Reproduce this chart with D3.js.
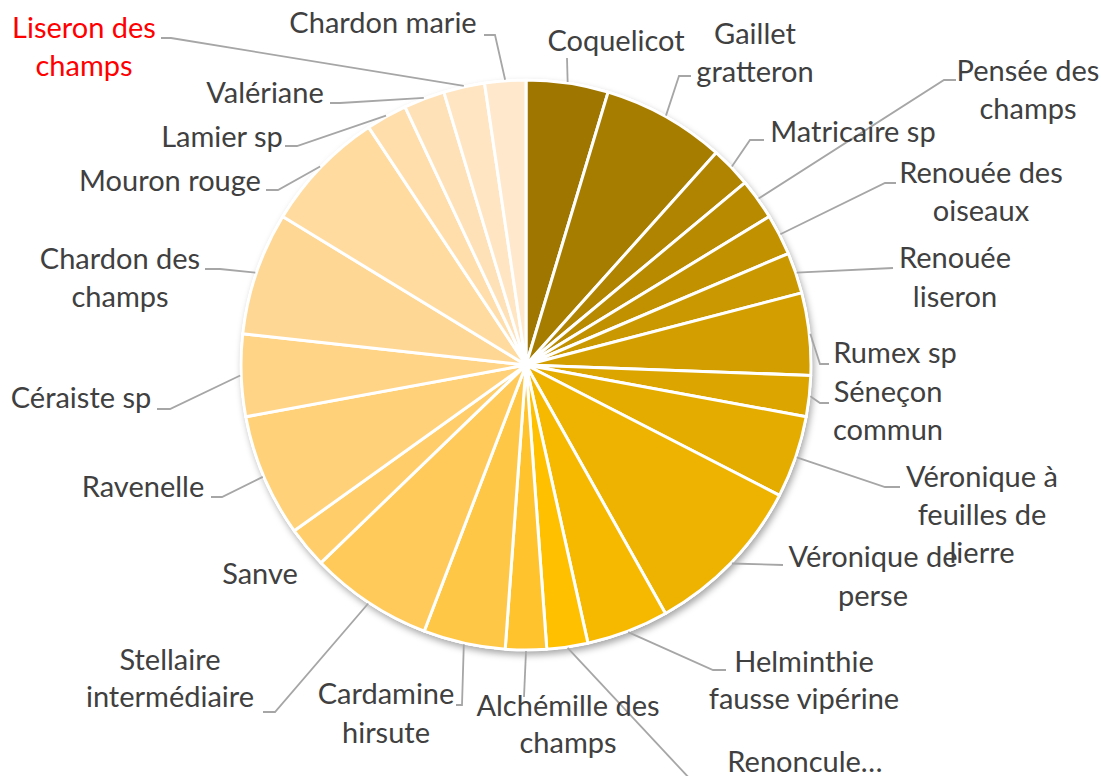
<!DOCTYPE html>
<html>
<head>
<meta charset="utf-8">
<script src="https://cdn.jsdelivr.net/npm/d3@7"></script>
<style>
  body { margin: 0; background: #fff; }
  .lbl { font-family: Lato, "Open Sans", sans-serif; font-size: 29px; fill: #404040; }
  .leader { fill: none; stroke: #a6a6a6; stroke-width: 1.8; }
</style>
</head>
<body>
<svg id="svg"></svg>
<script>
// species counted (clockwise from 12 o'clock)
const species = ["Coquelicot", "Gaillet gratteron", "Matricaire sp", "Pensée des champs",
  "Renouée des oiseaux", "Renouée liseron", "Rumex sp", "Séneçon commun",
  "Véronique à feuilles de lierre", "Véronique de perse", "Helminthie fausse vipérine",
  "Renoncule…", "Alchémille des champs", "Cardamine hirsute", "Stellaire intermédiaire",
  "Sanve", "Ravenelle", "Céraiste sp", "Chardon des champs", "Mouron rouge",
  "Lamier sp", "Valériane", "Liseron des champs", "Chardon marie"];
const counts = [2, 3, 1, 1, 1, 1, 2, 1, 2, 4, 2, 1, 1, 2, 3, 1, 3, 2, 3, 3, 1, 1, 1, 1];
const highlighted = ["Liseron des champs"];

// label placement, Excel style (line breaks, block centre x, baselines, leader elbow points)
const labelLayout = {
  "Coquelicot": { lines: ["Coquelicot"], x: 616, y: [51], leader: [[567, 58]] },
  "Gaillet gratteron": { lines: ["Gaillet", "gratteron"], x: 755, y: [44, 82], leader: [[679, 76], [691, 76]] },
  "Matricaire sp": { lines: ["Matricaire sp"], x: 853, y: [142], leader: [[750, 140], [764, 140]] },
  "Pensée des champs": { lines: ["Pensée des", "champs"], x: 1028, y: [81, 119], leader: [[944, 80], [956, 80]] },
  "Renouée des oiseaux": { lines: ["Renouée des", "oiseaux"], x: 981, y: [183, 221], leader: [[885, 183], [896, 183]] },
  "Renouée liseron": { lines: ["Renouée", "liseron"], x: 955, y: [268, 307], leader: [[893, 268]] },
  "Rumex sp": { lines: ["Rumex sp"], x: 895, y: [363], leader: [[820, 364], [829, 364]] },
  "Séneçon commun": { lines: ["Séneçon", "commun"], x: 888, y: [402, 440], leader: [[820, 403], [829, 403]] },
  "Véronique à feuilles de lierre": { lines: ["Véronique à", "feuilles de", "lierre"], x: 982, y: [487, 525, 563], leader: [[885, 487], [900, 487]] },
  "Véronique de perse": { lines: ["Véronique de", "perse"], x: 873, y: [567, 606], leader: [[783, 565]] },
  "Helminthie fausse vipérine": { lines: ["Helminthie", "fausse vipérine"], x: 804, y: [672, 709], leader: [[713, 670], [726, 670]] },
  "Renoncule…": { lines: ["Renoncule…"], x: 805, y: [772], leader: [[705, 795]] },
  "Alchémille des champs": { lines: ["Alchémille des", "champs"], x: 568, y: [716, 753], leader: [[524, 697]] },
  "Cardamine hirsute": { lines: ["Cardamine", "hirsute"], x: 386, y: [704, 743], leader: [[462, 705], [456, 705]] },
  "Stellaire intermédiaire": { lines: ["Stellaire", "intermédiaire"], x: 170, y: [670, 707], leader: [[275, 712], [263, 712]] },
  "Sanve": { lines: ["Sanve"], x: 260, y: [584], leader: [] },
  "Ravenelle": { lines: ["Ravenelle"], x: 143, y: [497], leader: [[222, 497], [211, 497]] },
  "Céraiste sp": { lines: ["Céraiste sp"], x: 81, y: [408], leader: [[170, 409], [157, 409]] },
  "Chardon des champs": { lines: ["Chardon des", "champs"], x: 120, y: [269, 307], leader: [[220, 269], [205, 269]] },
  "Mouron rouge": { lines: ["Mouron rouge"], x: 170, y: [191], leader: [[278, 190], [266, 190]] },
  "Lamier sp": { lines: ["Lamier sp"], x: 222, y: [147], leader: [[297, 146], [285, 146]] },
  "Valériane": { lines: ["Valériane"], x: 265, y: [103], leader: [[340, 103], [330, 103]] },
  "Liseron des champs": { lines: ["Liseron des", "champs"], x: 84, y: [38, 76], leader: [[171, 38], [161, 38]] },
  "Chardon marie": { lines: ["Chardon marie"], x: 383, y: [33], leader: [[495, 35], [484, 35]] }
};

function createVisualization() {
  let w = 1101, h = 776;
  let cx = 526, cy = 365, r = 285;

  let svg = d3.select("#svg")
              .attr("width", w)
              .attr("height", h);

  // soft shadow like the Excel pie
  let filter = svg.append("defs").append("filter")
      .attr("id", "shadow")
      .attr("x", "-10%").attr("y", "-10%")
      .attr("width", "120%").attr("height", "120%");
  filter.append("feDropShadow")
      .attr("dx", 2).attr("dy", 4)
      .attr("stdDeviation", 3.5)
      .attr("flood-color", "#000")
      .attr("flood-opacity", 0.35);

  let data = species.map((s, i) => ({ name: s, value: counts[i] }));

  let pie = d3.pie().sort(null).value(d => d.value);
  let arcs = pie(data);

  // monochromatic gold palette: shades of #FFC000, then tints towards peach
  let dark = d3.scaleLinear().domain([0, 11]).range(["#9e7600", "#ffc000"]);
  let tint = d3.scaleLinear().domain([11, data.length - 1]).range([0, 1]);
  let light = i => {
    let t = tint(i);
    return d3.rgb(255, 192 + 40 * t, 204 * Math.pow(t, 0.6)).formatHex();
  };
  let color = i => i <= 11 ? dark(i) : light(i);

  let arc = d3.arc().innerRadius(0).outerRadius(r);

  let g = svg.append("g").attr("transform", `translate(${cx},${cy})`);

  g.append("circle")
   .attr("r", r + 1)
   .attr("fill", "#fff")
   .attr("filter", "url(#shadow)");

  g.selectAll("path.slice")
   .data(arcs)
   .enter()
   .append("path")
   .attr("class", "slice")
   .attr("d", arc)
   .attr("fill", (d, i) => color(i))
   .attr("stroke", "#fff")
   .attr("stroke-width", 3)
   .attr("stroke-linejoin", "round");

  // leader lines: start on the rim at the slice mid angle
  let line = d3.line();
  svg.selectAll("path.leader")
     .data(arcs.filter(d => labelLayout[d.data.name].leader.length))
     .enter()
     .append("path")
     .attr("class", "leader")
     .attr("d", d => {
       let a = (d.startAngle + d.endAngle) / 2;
       let p0 = [cx + (r + 1) * Math.sin(a), cy - (r + 1) * Math.cos(a)];
       return line([p0].concat(labelLayout[d.data.name].leader));
     });

  // labels
  let labels = svg.selectAll("text.lbl")
     .data(arcs)
     .enter()
     .append("text")
     .attr("class", "lbl")
     .attr("text-anchor", "middle")
     .style("fill", d => highlighted.includes(d.data.name) ? "#ff0000" : null);

  labels.each(function(d) {
    let L = labelLayout[d.data.name];
    d3.select(this).selectAll("tspan")
      .data(L.lines)
      .enter()
      .append("tspan")
      .attr("x", L.x)
      .attr("y", (t, i) => L.y[i])
      .text(t => t);
  });
}

window.onload = function() {
  createVisualization();
};
</script>
</body>
</html>
